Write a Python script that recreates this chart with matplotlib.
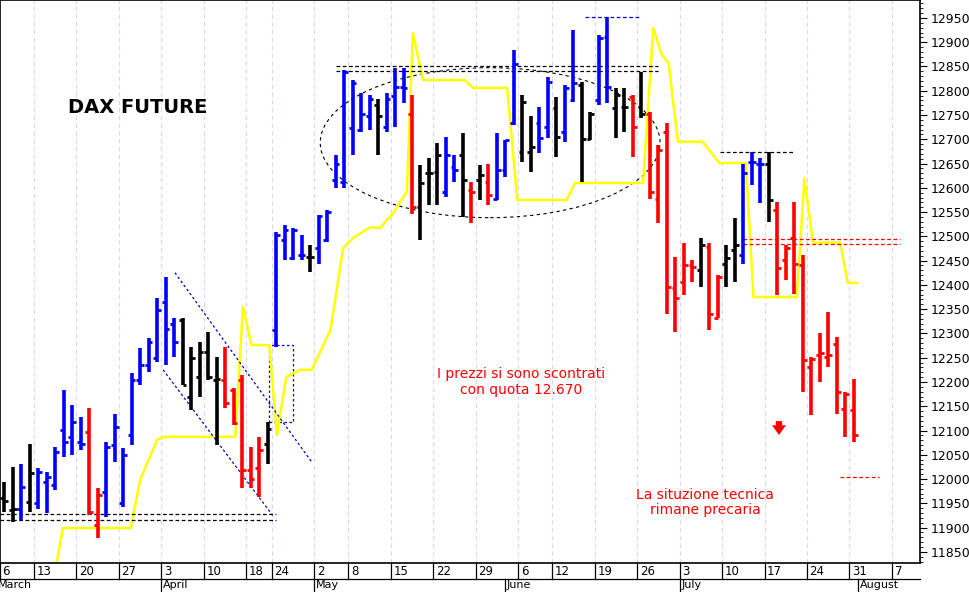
import numpy as np
import matplotlib
matplotlib.use("Agg")
from matplotlib import pyplot as plt
from matplotlib.patches import Ellipse, Rectangle
import matplotlib.transforms as mtransforms

# daily bars (trading-day index), colour code: b=up trend, k=neutral, r=down
colors = ("kkbk" + "b" * 6 + "rr" + "b" * 9 + "k" * 5 + "r" * 5 + "k" + "b" * 4 + "k" + "b" * 7
          + "k" + "b" * 3 + "r" + "k" * 3 + "bb" + "krkr" + "b" * 3 + "kkbbkbbkkbbkkrk"
          + "r" * 6 + "krrkk" + "b" * 3 + "k" + "r" * 10)
opens = [11960,11936,11939,11953,11950,11994,11988,12101,12087,12077,12097,11905,11974,12070,11950,
         12091,12204,12235,12249,12365,12320,12328,12170,12211,12262,12204,12204,12183,12204,12018,
         12022,12073,12307,12493,12455,12462,12458,12475,12493,12616,12613,12723,12720,12747,12771,
         12726,12790,12808,12753,12560,12630,12633,12592,12643,12668,12595,12616,12613,12576,12637,
         12733,12674,12674,12733,12726,12764,12716,12780,12812,12700,12780,12911,12764,12767,12788,
         12767,12753,12578,12716,12393,12407,12441,12431,12479,12331,12444,12472,12461,12654,12650,
         12650,12555,12451,12496,12441,12231,12255,12252,12279,12145,12142]
highs = [11994,12025,12032,12073,12022,12015,12067,12183,12152,12128,12146,11981,12077,12135,12063,
         12218,12269,12290,12372,12417,12331,12331,12273,12283,12302,12252,12273,12187,12214,12067,
         12087,12118,12510,12523,12517,12503,12482,12544,12554,12668,12843,12822,12796,12791,12784,
         12795,12846,12846,12791,12647,12661,12692,12705,12668,12712,12613,12647,12650,12712,12698,
         12884,12791,12747,12767,12829,12788,12812,12925,12819,12757,12915,12953,12805,12805,12791,
         12839,12757,12688,12733,12458,12486,12451,12496,12486,12420,12482,12537,12650,12674,12661,
         12674,12571,12482,12571,12461,12252,12300,12345,12293,12180,12207]
lows = [11933,11912,11915,11933,11939,11929,11977,12046,12049,12060,11926,11878,11922,12036,11943,
        12070,12194,12221,12242,12235,12252,12194,12142,12170,12204,12070,12146,12111,11981,11981,
        11964,12032,12273,12451,12451,12451,12427,12444,12489,12599,12599,12668,12716,12719,12668,
        12716,12726,12774,12547,12492,12564,12564,12582,12613,12540,12527,12575,12564,12575,12623,
        12729,12654,12633,12671,12702,12664,12695,12777,12613,12698,12771,12774,12702,12716,12664,
        12743,12578,12527,12341,12303,12379,12407,12396,12307,12331,12396,12407,12444,12606,12568,
        12530,12379,12410,12382,12180,12132,12200,12231,12135,12087,12077]
closes = [11955,11939,11984,12012,12015,12005,12056,12077,12118,12073,11933,11967,12067,12108,12049,
          12204,12235,12283,12348,12310,12283,12194,12249,12262,12211,12207,12156,12115,12018,12001,
          12060,12104,12503,12513,12513,12462,12458,12541,12550,12650,12839,12815,12753,12784,12747,
          12784,12808,12805,12561,12609,12631,12668,12668,12637,12616,12592,12626,12585,12637,12698,
          12856,12777,12685,12702,12819,12705,12805,12815,12700,12753,12908,12808,12791,12767,12726,
          12753,12592,12678,12396,12372,12441,12437,12482,12341,12417,12455,12482,12630,12654,12650,
          12575,12434,12475,12444,12245,12248,12259,12255,12180,12176,12090]

# yellow trailing line (day index, price)
stop_x = [6.2, 6.9, 14.9, 16.0, 18.0, 18.9, 27.2, 28.1, 29.1, 31.2, 32.1, 33.2, 34.8, 36.2, 38.4,
          39.9, 41.1, 43.1, 44.2, 45.8, 47.4, 48.1, 49.3, 54.2, 55.2, 59.2, 60.4, 66.2, 67.2, 75.2,
          76.4, 77.4, 78.2, 79.3, 82.2, 84.2, 87.3, 88.2, 93.3, 94.2, 95.2, 98.4, 99.3, 100.4]
stop_y = [11830, 11899, 11899, 11998, 12081, 12087, 12087, 12355, 12276, 12276, 12091, 12210, 12225,
          12225, 12307, 12476, 12497, 12519, 12517, 12548, 12592, 12919, 12822, 12822, 12806, 12806,
          12575, 12575, 12610, 12610, 12929, 12874, 12857, 12695, 12695, 12651, 12651, 12375, 12375,
          12620, 12487, 12487, 12404, 12404]

week_pos = [-0.5, 3.5, 8.5, 13.5, 18.5, 23.5, 28.5, 31.5, 36.5, 40.5, 45.5, 50.5, 55.5, 60.5,
            64.5, 69.5, 74.5, 79.5, 84.5, 89.5, 94.5, 99.5, 104.5]
week_lab = ["6", "13", "20", "27", "3", "10", "18", "24", "2", "8", "15", "22", "29", "6",
            "12", "19", "26", "3", "10", "17", "24", "31", "7"]
month_pos = [-0.9, 18.5, 36.5, 58.9, 79.5, 100.5]
month_lab = ["March", "April", "May", "June", "July", "August"]

cmap = {"b": "#0000ff", "k": "#000000", "r": "#ff0000"}

fig = plt.figure(figsize=(9.7, 5.92), dpi=100)
ax = fig.add_axes([0, 29 / 592, 920 / 970, 563 / 592])
ax.set_xlim(-0.5, 107.8)
ax.set_ylim(11827, 12987)

for p in week_pos[1:]:
    ax.axvline(p, color="#d8d8f0", lw=0.8, ls=(0, (4, 3)), zorder=0)

ax.plot(stop_x, stop_y, color="#ffff00", lw=1.8, zorder=2)

x = np.arange(len(opens))
col = [cmap[c] for c in colors[:len(opens)]]
ax.vlines(x, lows, highs, colors=col, lw=2.6, zorder=3)
ax.hlines(opens, x - 0.45, x, colors=col, lw=2.0, zorder=3)
ax.hlines(closes, x, x + 0.45, colors=col, lw=2.0, zorder=3)

# support / resistance guides
dash = (0, (3, 2))
ax.hlines([11928, 11916], -0.5, 32, colors="k", lw=0.9, linestyles=[dash])
ax.hlines([12851, 12841], 39, 77, colors="k", lw=0.9, linestyles=[dash])
ax.hlines([12952], 68.4, 74.8, colors="#0000cc", lw=0.9, linestyles=[dash])
ax.hlines([12674], 84.2, 93.0, colors="k", lw=0.9, linestyles=[dash])
ax.hlines([12495, 12484], 87.0, 105.5, colors="red", lw=0.9, linestyles=[dash])
ax.hlines([12005], 98.4, 103.0, colors="red", lw=0.9, linestyles=[dash])
ax.plot([20.1, 36.2], [12425, 12035], color="#0000cc", lw=0.9, ls=(0, (2, 2)))
ax.plot([18.7, 31.6], [12225, 11925], color="#0000cc", lw=0.9, ls=(0, (2, 2)))
ax.add_patch(Rectangle((31.2, 12118), 2.8, 158, fill=False, ec="#0000cc", lw=0.9, ls=(0, (2, 2))))
ax.add_patch(Ellipse((57.2, 12693), 40, 309, fill=False, ec="k", lw=0.8, ls=(0, (3, 3))))
ax.annotate("", xy=(91.2, 12085), xytext=(91.2, 12125),
            arrowprops=dict(arrowstyle="simple,head_width=1.0,head_length=0.7,tail_width=0.45",
                            color="red", lw=0))

ax.text(7.5, 12754, "DAX FUTURE", fontsize=14, fontweight="bold", family="DejaVu Sans")
ax.text(60.8, 12200, "I prezzi si sono scontrati\ncon quota 12.670", color="red", fontsize=10,
        ha="center", va="center", family="DejaVu Sans", linespacing=1.1)
ax.text(82.5, 11951, "La situzione tecnica\nrimane precaria", color="red", fontsize=10,
        ha="center", va="center", family="DejaVu Sans", linespacing=1.1)

# right price axis
ax.yaxis.tick_right()
ax.set_yticks(np.arange(11850, 12951, 50))
ax.set_yticks(np.arange(11830, 12990, 10), minor=True)
ax.tick_params(axis="y", which="major", length=5, labelsize=9, pad=3)
ax.tick_params(axis="y", which="minor", length=2.5)
for s in ax.spines.values():
    s.set_linewidth(1.2)

# custom date axis
ax.set_xticks([])
tr = mtransforms.blended_transform_factory(ax.transData, ax.transAxes)
for p, lab in zip(week_pos, week_lab):
    ax.plot([p, p], [0, -0.029], color="k", lw=0.9, transform=tr, clip_on=False)
    ax.text(p + 0.3, -0.015, lab, fontsize=8.5, ha="left", va="center", transform=tr,
            family="DejaVu Sans")
ax.plot([-0.5, 107.8], [-0.029, -0.029], color="k", lw=0.9, transform=tr, clip_on=False)
for p, lab in zip(month_pos, month_lab):
    ax.plot([p, p], [-0.029, -0.06], color="k", lw=0.9, transform=tr, clip_on=False)
    ax.text(p + 0.2, -0.039, lab, fontsize=8, ha="left", va="center", transform=tr,
            family="DejaVu Sans")

fig.savefig("out.png", dpi=100)
